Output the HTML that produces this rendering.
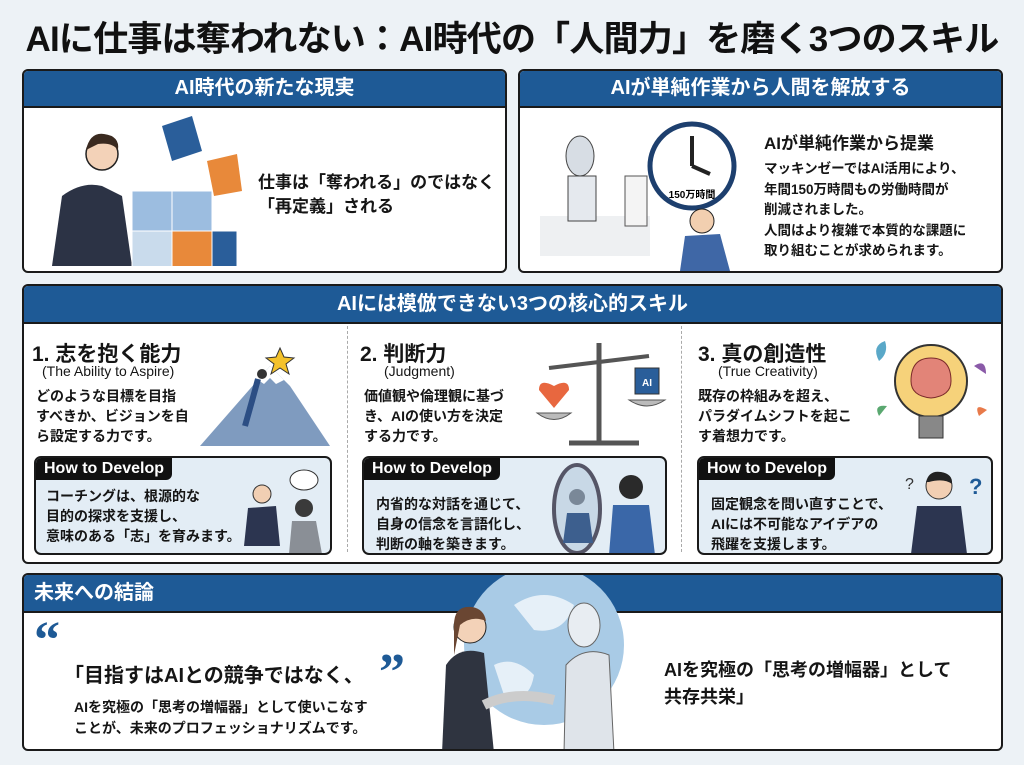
<!DOCTYPE html>
<html><head><meta charset="utf-8"><style>
*{margin:0;padding:0;box-sizing:border-box}
body{width:1024px;height:765px;background:#edf2f6;font-family:"Liberation Sans","Noto Sans CJK JP",sans-serif;position:relative;overflow:hidden;color:#111}
.a{position:absolute}
.title{left:0;width:1024px;top:11px;text-align:center;font-size:35px;font-weight:bold;letter-spacing:-0.8px;color:#111}
.panel{position:absolute;background:#fff;border:2px solid #1a1a1a;border-radius:6px;overflow:hidden}
.hd{position:absolute;left:0;right:0;top:0;background:#1e5a96;color:#fff;font-weight:bold;font-size:20px;text-align:center;border-bottom:2px solid #1a1a1a}
.t{position:absolute;font-weight:bold;color:#151515}
.dev{position:absolute;background:#e3edf5;border:2px solid #1a1a1a;border-radius:7px;overflow:hidden}
.tab{position:absolute;left:0;top:0;background:#111;color:#fff;font-weight:bold;font-size:16px;padding:2px 8px 2px 8px;border-bottom-right-radius:6px;height:22px;line-height:18px}
.dash{position:absolute;top:40px;bottom:10px;border-left:1.5px dashed #aaa}
</style></head><body>
<div class="a title">AIに仕事は奪われない：AI時代の「人間力」を磨く3つのスキル</div>

<!-- Panel 1 -->
<div class="panel" style="left:22px;top:69px;width:485px;height:204px">
 <div class="hd" style="height:37px;line-height:35px">AI時代の新たな現実</div>
 <svg class="a" style="left:18px;top:45px" width="200" height="150">
  <path d="M10 150 L20 80 Q40 65 60 70 L80 80 L90 150Z" fill="#2c3345"/>
  <circle cx="60" cy="38" r="16" fill="#f3d2b8" stroke="#222" stroke-width="1.5"/>
  <path d="M44 34 Q48 16 62 18 Q78 20 76 34 Q70 26 56 28Z" fill="#3a2a20"/>
  <rect x="90" y="75" width="40" height="40" fill="#9cbde0" stroke="#fff"/>
  <rect x="130" y="75" width="40" height="40" fill="#9cbde0" stroke="#fff"/>
  <rect x="90" y="115" width="40" height="40" fill="#c9dbec" stroke="#fff"/>
  <rect x="130" y="115" width="40" height="40" fill="#e8893a" stroke="#fff"/>
  <rect x="170" y="115" width="25" height="40" fill="#2a5e9a" stroke="#fff"/>
  <path d="M120 10 L150 0 L160 35 L130 45Z" fill="#2a5e9a"/>
  <path d="M165 45 L195 38 L200 75 L172 80Z" fill="#e8893a"/>
 </svg>
 <div class="t" style="left:234px;top:100px;font-size:17px;line-height:24px">仕事は「奪われる」のではなく<br>「再定義」される</div>
</div>

<!-- Panel 2 -->
<div class="panel" style="left:518px;top:69px;width:485px;height:204px">
 <div class="hd" style="height:37px;line-height:35px">AIが単純作業から人間を解放する</div>
 <svg class="a" style="left:20px;top:45px" width="210" height="155">
  <rect x="0" y="100" width="110" height="40" fill="#eef0f2"/>
  <ellipse cx="40" cy="40" rx="14" ry="20" fill="#d7dde4" stroke="#444"/>
  <rect x="28" y="60" width="28" height="45" fill="#e5e9ee" stroke="#444"/>
  <rect x="85" y="60" width="22" height="50" fill="#f4f4f4" stroke="#555"/>
  <circle cx="152" cy="50" r="42" fill="#fff" stroke="#1d3f6e" stroke-width="5"/>
  <path d="M152 50 L152 20 M152 50 L170 58" stroke="#222" stroke-width="4"/>
  <text x="152" y="82" font-size="10" font-weight="bold" text-anchor="middle" font-family="Liberation Sans,Noto Sans CJK JP,sans-serif">150万時間</text>
  <circle cx="162" cy="105" r="12" fill="#f2cfb0" stroke="#222"/>
  <path d="M140 155 L145 120 L180 118 L190 155Z" fill="#3f67a6"/>
 </svg>
 <div class="t" style="left:244px;top:58px;font-size:17px">AIが単純作業から提業</div>
 <div class="t" style="left:244px;top:88px;font-size:13.5px;line-height:20.5px">マッキンゼーではAI活用により、<br>年間150万時間もの労働時間が<br>削減されました。<br>人間はより複雑で本質的な課題に<br>取り組むことが求められます。</div>
</div>

<!-- Panel 3 -->
<div class="panel" style="left:22px;top:284px;width:981px;height:280px">
 <div class="hd" style="height:38px;line-height:36px">AIには模倣できない3つの核心的スキル</div>
 <div class="dash" style="left:323px"></div>
 <div class="dash" style="left:657px"></div>
 <div class="t" style="left:8px;top:52px;font-size:21px">1. 志を抱く能力</div>
 <div class="t" style="left:18px;top:77px;font-size:14px;font-weight:normal">(The Ability to Aspire)</div>
 <div class="t" style="left:12px;top:100px;font-size:14px;line-height:20px">どのような目標を目指<br>すべきか、ビジョンを自<br>ら設定する力です。</div>
 <svg class="a" style="left:176px;top:50px" width="150" height="115">
  <path d="M0 110 L70 30 L90 50 L130 110Z" fill="#7f9bbf"/>
  <path d="M58 44 L70 30 L84 44 L76 48 L70 42 L64 48Z" fill="#fff"/>
  <path d="M80 12 l4 9 10 1 -8 6 3 10 -9-6 -9 6 3-10 -8-6 10-1z" fill="#f4c22b" stroke="#333"/>
  <circle cx="62" cy="38" r="5" fill="#333"/>
  <path d="M58 43 L52 65 L45 90" stroke="#2c4e84" stroke-width="6" fill="none"/>
 </svg>
 <div class="dev" style="left:10px;top:170px;width:298px;height:99px">
  <div class="tab">How to Develop</div>
  <div class="t" style="left:10px;top:28px;font-size:14px;line-height:20px">コーチングは、根源的な<br>目的の探求を支援し、<br>意味のある「志」を育みます。</div>
  <svg class="a" style="left:198px;top:8px" width="95" height="88">
   <ellipse cx="70" cy="14" rx="14" ry="10" fill="#fff" stroke="#333"/>
   <circle cx="28" cy="28" r="9" fill="#f1cfb3" stroke="#333"/>
   <path d="M10 80 L14 42 L42 40 L46 80Z" fill="#2c3550"/>
   <circle cx="70" cy="42" r="9" fill="#3a3a3a"/>
   <path d="M55 88 L58 55 L82 55 L88 88Z" fill="#8a8f96"/>
  </svg>
 </div>
 <div class="t" style="left:336px;top:52px;font-size:21px">2. 判断力</div>
 <div class="t" style="left:360px;top:77px;font-size:14px;font-weight:normal">(Judgment)</div>
 <div class="t" style="left:340px;top:100px;font-size:14px;line-height:20px">価値観や倫理観に基づ<br>き、AIの使い方を決定<br>する力です。</div>
 <svg class="a" style="left:505px;top:52px" width="150" height="115">
  <path d="M70 5 L70 105 M40 105 L110 105" stroke="#555" stroke-width="5"/>
  <path d="M20 30 L120 18" stroke="#555" stroke-width="4"/>
  <path d="M8 75 Q25 88 42 75Z" fill="#bbb" stroke="#555"/>
  <path d="M100 62 Q118 74 136 62Z" fill="#bbb" stroke="#555"/>
  <path d="M25 70 L10 52 Q10 40 25 48 Q40 40 40 52Z" fill="#e8673f"/>
  <rect x="106" y="30" width="24" height="26" fill="#2a5e9a" stroke="#333"/>
  <text x="118" y="48" fill="#fff" font-size="10" font-weight="bold" text-anchor="middle">AI</text>
 </svg>
 <div class="dev" style="left:338px;top:170px;width:305px;height:99px">
  <div class="tab">How to Develop</div>
  <div class="t" style="left:12px;top:36px;font-size:14px;line-height:20px">内省的な対話を通じて、<br>自身の信念を言語化し、<br>判断の軸を築きます。</div>
  <svg class="a" style="left:185px;top:5px" width="115" height="92">
   <ellipse cx="28" cy="46" rx="23" ry="44" fill="#c8d8e6" stroke="#556" stroke-width="4"/>
   <circle cx="28" cy="34" r="8" fill="#7a8898"/>
   <path d="M14 80 L18 50 L40 50 L44 80Z" fill="#3d5f8e"/>
   <circle cx="82" cy="24" r="12" fill="#2a2a2a"/>
   <path d="M60 92 L64 42 L100 42 L106 92Z" fill="#3a67a8"/>
  </svg>
 </div>
 <div class="t" style="left:674px;top:52px;font-size:21px">3. 真の創造性</div>
 <div class="t" style="left:694px;top:77px;font-size:14px;font-weight:normal">(True Creativity)</div>
 <div class="t" style="left:674px;top:100px;font-size:14px;line-height:20px">既存の枠組みを超え、<br>パラダイムシフトを起こ<br>す着想力です。</div>
 <svg class="a" style="left:845px;top:50px" width="120" height="118">
  <circle cx="62" cy="45" r="36" fill="#f6d27a" stroke="#333" stroke-width="2"/>
  <path d="M42 45 Q42 22 62 22 Q82 22 82 45 Q82 60 62 62 Q42 60 42 45Z" fill="#e28478" stroke="#7a2a2a"/>
  <rect x="50" y="80" width="24" height="22" fill="#888" stroke="#333"/>
  <path d="M10 25 q-8-15 6-20 q4 12 -6 20z" fill="#5aa8c8"/>
  <path d="M105 30 q12-8 12 8z" fill="#8a5aa8"/>
  <path d="M10 80 q-6 -12 8 -10z" fill="#5aa870"/>
  <path d="M110 80 q-6 -14 8 -6z" fill="#e87a4a"/>
 </svg>
 <div class="dev" style="left:673px;top:170px;width:296px;height:99px">
  <div class="tab">How to Develop</div>
  <div class="t" style="left:12px;top:36px;font-size:14px;line-height:20px">固定観念を問い直すことで、<br>AIには不可能なアイデアの<br>飛躍を支援します。</div>
  <svg class="a" style="left:200px;top:6px" width="90" height="90">
   <text x="6" y="25" font-size="16" fill="#333">?</text>
   <text x="70" y="30" font-size="22" fill="#1e5a96" font-weight="bold">?</text>
   <circle cx="40" cy="22" r="13" fill="#f2cfb3" stroke="#333"/>
   <path d="M27 18 Q30 6 42 8 Q54 10 53 20 Q45 14 30 18Z" fill="#222"/>
   <path d="M12 90 L18 42 L62 42 L68 90Z" fill="#2c3550"/>
  </svg>
 </div>
</div>

<!-- Panel 4 -->
<div class="panel" style="left:22px;top:573px;width:981px;height:178px">
 <div class="hd" style="height:38px;line-height:36px;text-align:left;padding-left:10px">未来への結論</div>
 <div class="t" style="left:10px;top:36px;font-size:52px;color:#1e5a96;font-family:'Liberation Serif',serif">“</div>
 <div class="t" style="left:40px;top:84px;font-size:20px">「目指すはAIとの競争ではなく、</div>
 <div class="t" style="left:355px;top:68px;font-size:52px;color:#1e5a96;font-family:'Liberation Serif',serif">”</div>
 <div class="t" style="left:50px;top:122px;font-size:14px;line-height:21px">AIを究極の「思考の増幅器」として使いこなす<br>ことが、未来のプロフェッショナリズムです。</div>
 <svg class="a" style="left:400px;top:0px" width="240" height="178">
  <circle cx="120" cy="70" r="80" fill="#a9cbe6"/>
  <path d="M90 30 q30 -20 60 0 q-10 30 -40 25z M70 90 q20 -10 40 10 q-5 30 -30 20z" fill="#e6f0f8"/>
  <path d="M18 178 L22 90 Q35 70 60 78 L70 178Z" fill="#2f3440"/>
  <circle cx="46" cy="52" r="16" fill="#f3d2b8" stroke="#222"/>
  <path d="M30 50 Q30 30 48 32 Q60 34 62 46 Q48 40 36 50 L30 80Z" fill="#6a4632"/>
  <path d="M140 178 L142 90 Q160 70 185 80 L190 178Z" fill="#dfe4ea" stroke="#666"/>
  <ellipse cx="160" cy="50" rx="16" ry="22" fill="#e8edf2" stroke="#666"/>
  <path d="M60 130 Q90 115 130 125" stroke="#ccc" stroke-width="10" fill="none"/>
 </svg>
 <div class="t" style="left:640px;top:82px;font-size:18px;line-height:27px">AIを究極の「思考の増幅器」として<br>共存共栄」</div>
</div>
</body></html>
